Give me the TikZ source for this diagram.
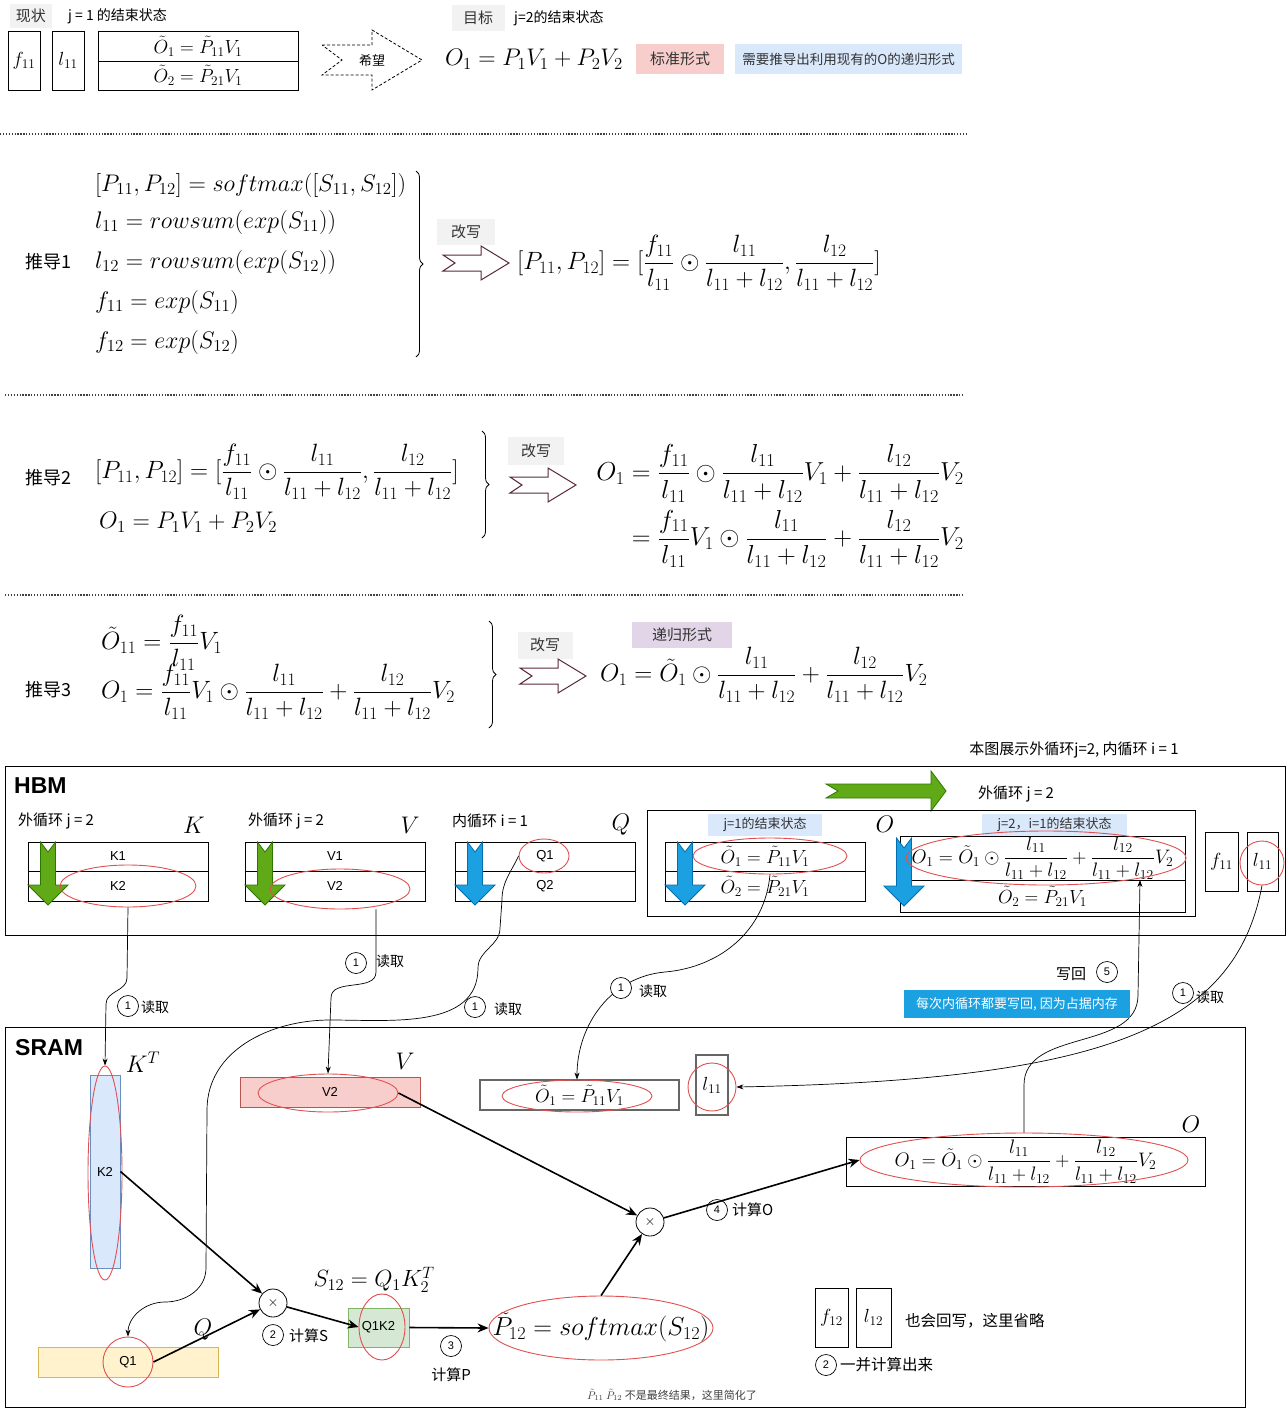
\RequirePackage{fix-cm}
\documentclass[tikz,border=0pt]{standalone}
\usepackage{amsmath}
\usepackage[no-math]{fontspec}
\setmainfont{Liberation Sans}
\newfontfamily\cjk{Noto Sans CJK SC}
\usetikzlibrary{shapes.geometric,arrows.meta,decorations.pathreplacing,calc}
\definecolor{grayBg}{HTML}{F2F2F2}
\definecolor{redBg}{HTML}{F8CECC}
\definecolor{blueBg}{HTML}{DAE8FC}
\definecolor{purBg}{HTML}{E1D5E7}
\definecolor{noteBlue}{HTML}{1BA1E2}
\definecolor{redLine}{HTML}{E05050}
\definecolor{grnFill}{HTML}{60A917}
\definecolor{grnLine}{HTML}{2D7600}
\definecolor{bluFill}{HTML}{1BA1E2}
\definecolor{bluLine}{HTML}{006EAF}
\definecolor{grayLine}{HTML}{666666}
\definecolor{yelFill}{HTML}{FFF2CC}
\definecolor{yelLine}{HTML}{D6B656}
\definecolor{grnBg}{HTML}{D5E8D4}
\definecolor{grnBgL}{HTML}{82B366}
\definecolor{redBgL}{HTML}{B85450}
\definecolor{bluBgL}{HTML}{6C8EBF}
\definecolor{maroonL}{HTML}{5A2A3C}
\definecolor{tagText}{HTML}{333333}
\tikzset{
  bx/.style={draw, line width=0.8pt, inner sep=0pt},
  gbx/.style={draw=grayLine, line width=1.2pt, inner sep=0pt},
  cn/.style={font=\cjk\fontsize{15}{17}\selectfont, inner sep=0pt},
  cns/.style={font=\cjk\fontsize{14}{16}\selectfont, inner sep=0pt},
  cnl/.style={font=\cjk\fontsize{18}{20}\selectfont, inner sep=0pt},
  tagbox/.style={font=\cjk\fontsize{15}{17}\selectfont, inner sep=0pt, text=tagText},
  lat/.style={font=\fontsize{13}{15}\selectfont},
  mbig/.style={font=\fontsize{25}{30}\selectfont, inner sep=0pt},
  mlin/.style={font=\fontsize{24}{29}\selectfont, inner sep=0pt},
  mmid/.style={font=\fontsize{19}{23}\selectfont, inner sep=0pt},
  msm/.style={font=\fontsize{19.5}{23}\selectfont, inner sep=0pt},
  redell/.style={ellipse, draw=redLine, line width=0.9pt, inner sep=0pt},
  conn/.style={line width=0.7pt, -{Stealth[length=7pt,width=5pt]}},
  tarr/.style={line width=1.6pt, -{Stealth[length=11pt,width=9pt]}},
  numc/.style={circle, draw, line width=0.7pt, minimum size=21pt, inner sep=0pt, font=\fontsize{11}{12}\selectfont},
  mul/.style={circle, draw, line width=0.8pt, minimum size=28pt, inner sep=0pt, font=\fontsize{14}{16}\selectfont},
  sepline/.style={line width=1.3pt, dash pattern=on 1.3pt off 1.6pt, black!75},
  bigttl/.style={font=\bfseries\fontsize{23}{25}\selectfont, inner sep=0pt},
  pics/darr/.style n args={3}{code={\filldraw[fill=#1,draw=#2,line width=0.8pt] (-7.5,0) -- (0,10) -- (7.5,0) -- (7.5,#3-20) -- (20,#3-20) -- (0,#3) -- (-20,#3-20) -- (-7.5,#3-20) -- cycle;}},
  pics/harr/.style={code={\filldraw[fill=white,draw=maroonL,line width=1pt] (0,-8) -- (38,-8) -- (38,-17) -- (66,0) -- (38,17) -- (38,8) -- (0,8) -- (12,0) -- cycle;}},
  rbrace/.style={decorate, decoration={brace, amplitude=7pt}, line width=0.8pt},
}
\begin{document}
\begin{tikzpicture}[x=1pt,y=-1pt]
\useasboundingbox (0,0) rectangle (1287,1408);
\fill[white] (0,0) rectangle (1287,1408);

% ---------------- top ----------------
\node[tagbox, fill=grayBg, minimum width=42pt, minimum height=24pt] (xz) at (31,16) {现状};
\node[cns, anchor=west] (xzt) at (68,16) {j = 1 的结束状态};
\node[bx, minimum width=32pt, minimum height=59pt, mmid] (f11a) at (24,60.5) {$f_{11}$};
\node[bx, minimum width=32pt, minimum height=59pt, mmid] (l11a) at (68,60.5) {$l_{11}$};
\node[bx, minimum width=200pt, minimum height=30pt, mmid] (ot1a) at (198,46) {$\tilde{O}_1 = \tilde{P}_{11}V_1$};
\node[bx, minimum width=200pt, minimum height=29pt, mmid] (ot2a) at (198,75.5) {$\tilde{O}_2 = \tilde{P}_{21}V_1$};
\draw[dashed, dash pattern=on 3pt off 2pt, line width=0.8pt] (322,45) -- (372,45) -- (372,30) -- (422,60) -- (372,90) -- (372,75) -- (322,75) -- (342,60) -- cycle;
\node[cns, font=\cjk\fontsize{13}{15}\selectfont] (hope) at (372,61) {希望};
\node[tagbox, fill=grayBg, minimum width=53pt, minimum height=26pt] (mb) at (478,18) {目标};
\node[cns, anchor=west] (mbt) at (514,18) {j=2的结束状态};
\node[mlin] (stdf) at (534,59) {$O_1 = P_1V_1 + P_2V_2$};
\node[tagbox, fill=redBg, minimum width=88pt, minimum height=30pt] (bz) at (680,59) {标准形式};
\node[tagbox, fill=blueBg, minimum width=227pt, minimum height=30pt, font=\cjk\fontsize{13.5}{15}\selectfont] (need) at (848.5,59) {需要推导出利用现有的O的递归形式};

\draw[sepline] (0,134) -- (966,134);
\draw[sepline] (5,395) -- (964,395);
\draw[sepline] (5,595) -- (964,595);

% ---------------- derivation 1 ----------------
\node[cnl] (d1) at (48,262) {推导1};
\node[mlin, anchor=west] (d1a) at (95,185) {$[P_{11},P_{12}] = softmax([S_{11},S_{12}])$};
\node[mlin, anchor=west] (d1b) at (95,222) {$l_{11} = rowsum(exp(S_{11}))$};
\node[mlin, anchor=west] (d1c) at (95,262) {$l_{12} = rowsum(exp(S_{12}))$};
\node[mlin, anchor=west] (d1d) at (95,302) {$f_{11} = exp(S_{11})$};
\node[mlin, anchor=west] (d1e) at (95,342) {$f_{12} = exp(S_{12})$};
\draw[rbrace] (416,171) -- (416,357);
\node[tagbox, fill=grayBg, minimum width=58pt, minimum height=26pt] (gx1) at (466,232) {改写};
\pic at (443,263) {harr};
\node[mbig, anchor=west] (d1r) at (517,263) {$[P_{11},P_{12}] = [\dfrac{f_{11}}{l_{11}} \odot \dfrac{l_{11}}{l_{11}+l_{12}}, \dfrac{l_{12}}{l_{11}+l_{12}}]$};

% ---------------- derivation 2 ----------------
\node[cnl] (d2) at (48,478) {推导2};
\node[mbig, anchor=west] (d2a) at (95,472) {$[P_{11},P_{12}] = [\dfrac{f_{11}}{l_{11}} \odot \dfrac{l_{11}}{l_{11}+l_{12}}, \dfrac{l_{12}}{l_{11}+l_{12}}]$};
\node[mlin, anchor=west] (d2b) at (99,522) {$O_1 = P_1V_1 + P_2V_2$};
\draw[rbrace] (482,431) -- (482,538);
\node[tagbox, fill=grayBg, minimum width=56pt, minimum height=28pt] (gx2) at (536,451) {改写};
\pic at (510,485) {harr};
\node[mbig, font=\fontsize{26}{31}\selectfont, anchor=east] (d2r) at (964,506) {$\begin{aligned} O_1 &= \dfrac{f_{11}}{l_{11}} \odot \dfrac{l_{11}}{l_{11}+l_{12}}V_1 + \dfrac{l_{12}}{l_{11}+l_{12}}V_2 \\[4pt] &= \dfrac{f_{11}}{l_{11}}V_1 \odot \dfrac{l_{11}}{l_{11}+l_{12}} + \dfrac{l_{12}}{l_{11}+l_{12}}V_2 \end{aligned}$};

% ---------------- derivation 3 ----------------
\node[cnl] (d3) at (48,690) {推导3};
\node[mbig, anchor=west] (d3a) at (101,643) {$\tilde{O}_{11} = \dfrac{f_{11}}{l_{11}}V_1$};
\node[mbig, anchor=west] (d3b) at (101,692) {$O_1 = \dfrac{f_{11}}{l_{11}}V_1 \odot \dfrac{l_{11}}{l_{11}+l_{12}} + \dfrac{l_{12}}{l_{11}+l_{12}}V_2$};
\draw[rbrace] (489,621) -- (489,728);
\node[tagbox, fill=grayBg, minimum width=55pt, minimum height=27pt] (gx3) at (545,645) {改写};
\pic at (520,676) {harr};
\node[tagbox, fill=purBg, minimum width=100pt, minimum height=26pt] (dg) at (682,635) {递归形式};
\node[mbig, anchor=west] (d3r) at (600,675) {$O_1 = \tilde{O}_1 \odot \dfrac{l_{11}}{l_{11}+l_{12}} + \dfrac{l_{12}}{l_{11}+l_{12}}V_2$};

% ---------------- HBM ----------------
\node[cn] (note) at (1074,750) {本图展示外循环j=2, 内循环 i = 1};
\node[bx, anchor=north west, minimum width=1280pt, minimum height=169pt] (hbm) at (5,766) {};
\node[bigttl, anchor=west] (hbmt) at (14,786) {HBM};
\filldraw[fill=grnFill, draw=grnLine, line width=0.8pt] (826,784) -- (931,784) -- (931,771) -- (946,791) -- (931,811) -- (931,798) -- (826,798) -- (838,791) -- cycle;
\node[cn, anchor=west] (outj) at (978,794) {外循环 j = 2};

% K
\node[cn, anchor=west] (kl) at (18,821) {外循环 j = 2};
\node[font=\fontsize{24}{28}\selectfont] (kk) at (194,825) {$K$};
\node[bx, lat, minimum width=180pt, minimum height=29pt] (kr1) at (118,856.5) {K1};
\node[bx, lat, minimum width=180pt, minimum height=30pt] (kr2) at (118,886) {K2};
\pic at (48,842) {darr={grnFill}{grnLine}{63}};
\node[redell, minimum width=136pt, minimum height=42pt] (eKh) at (128,886) {};
% V
\node[cn, anchor=west] (vl) at (248,821) {外循环 j = 2};
\node[font=\fontsize{24}{28}\selectfont] (vv) at (410,825) {$V$};
\node[bx, lat, minimum width=180pt, minimum height=29pt] (vr1) at (335,856.5) {V1};
\node[bx, lat, minimum width=180pt, minimum height=30pt] (vr2) at (335,886) {V2};
\pic at (265,842) {darr={grnFill}{grnLine}{63}};
\node[redell, minimum width=140pt, minimum height=40pt] (eVh) at (340,889) {};
% Q
\node[cn, anchor=west] (ql) at (452,821) {内循环 i = 1};
\node[font=\fontsize{24}{28}\selectfont] (qq) at (621,825) {$Q$};
\node[bx, lat, minimum width=180pt, minimum height=29pt] (qr1) at (545,856.5) {Q1};
\node[bx, lat, minimum width=180pt, minimum height=30pt] (qr2) at (545,886) {Q2};
\pic at (475,842) {darr={bluFill}{bluLine}{63}};
\node[redell, minimum width=50pt, minimum height=34pt] (eQh) at (544,856) {};
% O
\node[bx, anchor=north west, minimum width=548pt, minimum height=106pt] (ogrp) at (647,810) {};
\node[tagbox, fill=blueBg, minimum width=114pt, minimum height=22pt, font=\cjk\fontsize{13}{15}\selectfont] (tj1) at (765,825) {j=1的结束状态};
\node[font=\fontsize{24}{28}\selectfont] (oo) at (885,824) {$O$};
\node[tagbox, fill=blueBg, minimum width=145pt, minimum height=22pt, font=\cjk\fontsize{13}{15}\selectfont] (tj2) at (1054.5,825) {j=2，i=1的结束状态};
\node[bx, mmid, minimum width=200pt, minimum height=29pt] (ob1) at (765,856.5) {$\tilde{O}_1 = \tilde{P}_{11}V_1$};
\node[bx, mmid, minimum width=200pt, minimum height=30pt] (ob2) at (765,886) {$\tilde{O}_2 = \tilde{P}_{21}V_1$};
\pic at (685,842) {darr={bluFill}{bluLine}{63}};
\node[redell, minimum width=154pt, minimum height=36pt] (eOt1) at (770,856) {};
\node[bx, msm, minimum width=285pt, minimum height=44pt] (oc1) at (1042.5,858) {$O_1 = \tilde{O}_1 \odot \dfrac{l_{11}}{l_{11}+l_{12}} + \dfrac{l_{12}}{l_{11}+l_{12}}V_2$};
\node[bx, mmid, minimum width=285pt, minimum height=32pt] (oc2) at (1042.5,896) {$\tilde{O}_2 = \tilde{P}_{21}V_1$};
\pic at (904,838) {darr={bluFill}{bluLine}{68}};
\node[redell, minimum width=280pt, minimum height=54pt] (eOh) at (1046,858) {};
\node[bx, mmid, minimum width=33pt, minimum height=59pt] (f11h) at (1221.5,861.5) {$f_{11}$};
\node[bx, mmid, minimum width=31pt, minimum height=59pt] (l11h) at (1262.5,861.5) {$l_{11}$};
\node[redell, minimum width=44pt, minimum height=44pt] (eLh) at (1262,863) {};

% ---------------- SRAM ----------------
\node[bx, anchor=north west, minimum width=1240pt, minimum height=380pt] (sram) at (5,1027) {};
\node[bigttl, anchor=west] (sramt) at (15,1048) {SRAM};
\node[draw=bluBgL, fill=blueBg, line width=0.9pt, lat, minimum width=30pt, minimum height=193pt, inner sep=0pt] (kt) at (105,1171.5) {K2};
\node[redell, minimum width=34pt, minimum height=214pt] (eKT) at (105,1173) {};
\node[font=\fontsize{24}{28}\selectfont] (ktl) at (143,1062) {$K^T$};
\node[draw=redBgL, fill=redBg, line width=0.9pt, lat, minimum width=180pt, minimum height=30pt, inner sep=0pt] (vs) at (330,1092) {V2};
\node[redell, minimum width=140pt, minimum height=38pt] (eVs) at (328,1093) {};
\node[font=\fontsize{24}{28}\selectfont] (vsl) at (405,1061) {$V$};
\node[gbx, mmid, minimum width=199pt, minimum height=30pt] (os) at (579.5,1095) {$\tilde{O}_1 = \tilde{P}_{11}V_1$};
\node[redell, minimum width=150pt, minimum height=32pt] (eOs) at (577,1096) {};
\node[gbx, mmid, minimum width=32pt, minimum height=60pt] (ls) at (712,1085) {$l_{11}$};
\node[redell, minimum width=48pt, minimum height=48pt] (eLs) at (712,1087) {};
\node[bx, msm, minimum width=359pt, minimum height=49pt] (o2) at (1025.5,1161.5) {$O_1 = \tilde{O}_1 \odot \dfrac{l_{11}}{l_{11}+l_{12}} + \dfrac{l_{12}}{l_{11}+l_{12}}V_2$};
\node[redell, minimum width=328pt, minimum height=54pt] (eO2) at (1024,1160) {};
\node[font=\fontsize{24}{28}\selectfont] (o2l) at (1191,1124) {$O$};
\node[mul, fill=white] (mul2) at (650,1222) {$\times$};
\node[numc] (n4) at (717,1210) {4};
\node[cn, anchor=west] (n4t) at (732,1210) {计算O};
\node[mul, fill=white] (mul1) at (273,1303) {$\times$};
\node[numc] (n2) at (273,1335) {2};
\node[cn, anchor=west] (n2t) at (289,1336) {计算S};
\node[mmid, font=\fontsize{23.5}{28}\selectfont] (s12) at (374,1280) {$S_{12} = Q_1K_2^T$};
\node[draw=grnBgL, fill=grnBg, line width=0.9pt, lat, minimum width=61pt, minimum height=39pt, inner sep=0pt] (qk) at (378.5,1327.5) {Q1K2};
\node[redell, minimum width=46pt, minimum height=66pt] (eQK) at (382,1327) {};
\node[numc] (n3) at (451,1346) {3};
\node[cn] (n3t) at (451,1375) {计算P};
\node[mmid, font=\fontsize{26}{30}\selectfont] (pt) at (601,1327) {$\tilde{P}_{12} = softmax(S_{12})$};
\node[redell, minimum width=224pt, minimum height=64pt] (ePt) at (601,1328) {};
\node[draw=yelLine, fill=yelFill, line width=0.9pt, lat, minimum width=180pt, minimum height=30pt, inner sep=0pt] (qs) at (128,1362) {Q1};
\node[redell, minimum width=50pt, minimum height=50pt] (eQs) at (128,1362) {};
\node[font=\fontsize{24}{28}\selectfont] (qsl) at (203,1330) {$Q$};
\node[bx, mmid, minimum width=33pt, minimum height=59pt] (f12s) at (831.5,1317.5) {$f_{12}$};
\node[bx, mmid, minimum width=35pt, minimum height=59pt] (l12s) at (873.5,1317.5) {$l_{12}$};
\node[cn, anchor=west, font=\cjk\fontsize{15.5}{17}\selectfont] (hx) at (905,1321) {也会回写，这里省略};
\node[numc] (n2b) at (826,1365) {2};
\node[cn, anchor=west, font=\cjk\fontsize{15.5}{17}\selectfont] (n2bt) at (840,1365) {一并计算出来};
\node[cn, font=\cjk\fontsize{11}{13}\selectfont, text=black!75] (simp) at (672,1395) {$\tilde{P}_{11}$ $\tilde{P}_{12}$ 不是最终结果，这里简化了};

% thick arrows
\draw[tarr] (eVs.east) -- (mul2);
\draw[tarr] (mul2) -- (eO2.west);
\draw[tarr] (kt.east) -- (mul1);
\draw[tarr] (eQs.east) -- (mul1);
\draw[tarr] (mul1) -- (eQK.west);
\draw[tarr] (qk.east) -- (ePt.west);
\draw[tarr] (ePt.north) -- (mul2);

% read / write connectors
\draw[conn] (eKh.south) -- (127,978) to[out=-90,in=90] (106,1004) -- (eKT.north);
\draw[conn] ([xshift=36pt]eVh.south) -- (376,972) to[out=-90,in=90] (331,998) -- (eVs.north);
\draw[conn] (eQh.west) to[out=-115,in=90] (502,900) -- (500,928) to[out=-90,in=90] (478,968) to[out=-90,in=0] (330,1020) to[out=180,in=90] (207,1110) -- (206,1268) to[out=-90,in=0] (165,1302) to[out=180,in=90] (eQs.north);
\draw[conn] (eOt1.south) to[out=-95,in=5] (665,972) to[out=185,in=90] (eOs.north);
\draw[conn] (eLh.south) .. controls (1235,1030) and (1100,1080) .. (eLs.east);
\coordinate (wb) at (1140,880);
\draw[conn] (eO2.north) -- (1024,1085) to[out=90,in=-90] (1138,995) -- (wb);

\node[numc, fill=white] (r1) at (128,1006) {1};
\node[cns, anchor=west] (r1t) at (141,1007) {读取};
\node[numc, fill=white] (r2) at (356,963) {1};
\node[cns, anchor=west] (r2t) at (376,961) {读取};
\node[numc, fill=white] (r3) at (475,1007) {1};
\node[cns, anchor=west] (r3t) at (494,1009) {读取};
\node[numc, fill=white] (r4) at (621,988) {1};
\node[cns, anchor=west] (r4t) at (639,991) {读取};
\node[numc, fill=white] (r5) at (1183,993) {1};
\node[cns, anchor=west] (r5t) at (1196,997) {读取};
\node[cn] (wbt) at (1071,974) {写回};
\node[numc, fill=white] (w5) at (1107,972) {5};
\node[fill=noteBlue, text=white, font=\cjk\fontsize{13}{15}\selectfont, minimum width=226pt, minimum height=28pt, inner sep=0pt] (wbn) at (1017,1004) {每次内循环都要写回, 因为占据内存};
\end{tikzpicture}
\end{document}
